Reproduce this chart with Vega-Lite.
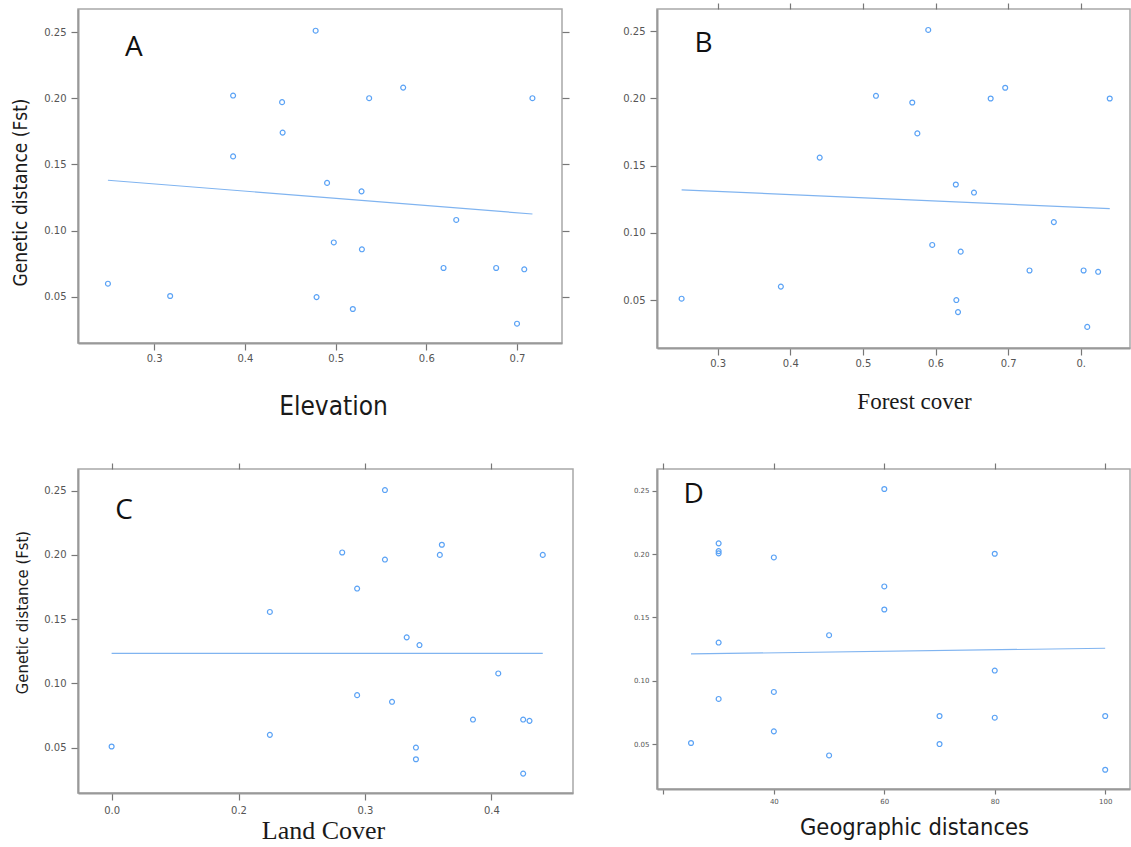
{
  "$schema": "https://vega.github.io/schema/vega-lite/v6.json",
  "background": "white",
  "padding": {"left": 10, "top": 1, "right": 0, "bottom": 0},
  "columns": 2,
  "bounds": "flush",
  "spacing": {"row": 121, "column": 84},
  "datasets": {
    "pts": [
      {"p": "A", "x": 0.478, "y": 0.251}, {"p": "A", "x": 0.387, "y": 0.202}, {"p": "A", "x": 0.441, "y": 0.197},
      {"p": "A", "x": 0.537, "y": 0.2}, {"p": "A", "x": 0.5745, "y": 0.208}, {"p": "A", "x": 0.717, "y": 0.2},
      {"p": "A", "x": 0.4416, "y": 0.174}, {"p": "A", "x": 0.387, "y": 0.156}, {"p": "A", "x": 0.4906, "y": 0.136},
      {"p": "A", "x": 0.5286, "y": 0.1296}, {"p": "A", "x": 0.633, "y": 0.108}, {"p": "A", "x": 0.498, "y": 0.091},
      {"p": "A", "x": 0.529, "y": 0.0858}, {"p": "A", "x": 0.619, "y": 0.0717}, {"p": "A", "x": 0.677, "y": 0.0717},
      {"p": "A", "x": 0.708, "y": 0.0707}, {"p": "A", "x": 0.249, "y": 0.0598}, {"p": "A", "x": 0.3176, "y": 0.0505},
      {"p": "A", "x": 0.479, "y": 0.0497}, {"p": "A", "x": 0.519, "y": 0.0407}, {"p": "A", "x": 0.7, "y": 0.0296},
      {"p": "B", "x": 0.59, "y": 0.251}, {"p": "B", "x": 0.518, "y": 0.202}, {"p": "B", "x": 0.568, "y": 0.197},
      {"p": "B", "x": 0.676, "y": 0.2}, {"p": "B", "x": 0.696, "y": 0.208}, {"p": "B", "x": 0.84, "y": 0.2},
      {"p": "B", "x": 0.575, "y": 0.174}, {"p": "B", "x": 0.4405, "y": 0.156}, {"p": "B", "x": 0.628, "y": 0.136},
      {"p": "B", "x": 0.653, "y": 0.13}, {"p": "B", "x": 0.763, "y": 0.108}, {"p": "B", "x": 0.5955, "y": 0.091},
      {"p": "B", "x": 0.6347, "y": 0.086}, {"p": "B", "x": 0.7295, "y": 0.072}, {"p": "B", "x": 0.804, "y": 0.072},
      {"p": "B", "x": 0.824, "y": 0.071}, {"p": "B", "x": 0.387, "y": 0.06}, {"p": "B", "x": 0.2503, "y": 0.051},
      {"p": "B", "x": 0.6287, "y": 0.05}, {"p": "B", "x": 0.631, "y": 0.041}, {"p": "B", "x": 0.809, "y": 0.03},
      {"p": "C", "x": 0.3158, "y": 0.2505}, {"p": "C", "x": 0.282, "y": 0.2019}, {"p": "C", "x": 0.3158, "y": 0.1964},
      {"p": "C", "x": 0.3608, "y": 0.2079}, {"p": "C", "x": 0.3592, "y": 0.2}, {"p": "C", "x": 0.4406, "y": 0.2},
      {"p": "C", "x": 0.2938, "y": 0.1738}, {"p": "C", "x": 0.2248, "y": 0.1556}, {"p": "C", "x": 0.333, "y": 0.1358},
      {"p": "C", "x": 0.3431, "y": 0.1298}, {"p": "C", "x": 0.4054, "y": 0.1077}, {"p": "C", "x": 0.2938, "y": 0.0908},
      {"p": "C", "x": 0.3214, "y": 0.0856}, {"p": "C", "x": 0.3854, "y": 0.0718}, {"p": "C", "x": 0.4251, "y": 0.0718},
      {"p": "C", "x": 0.4301, "y": 0.0708}, {"p": "C", "x": 0.2248, "y": 0.0599}, {"p": "C", "x": 0.0, "y": 0.0508},
      {"p": "C", "x": 0.3403, "y": 0.05}, {"p": "C", "x": 0.3403, "y": 0.0409}, {"p": "C", "x": 0.4251, "y": 0.0297},
      {"p": "D", "x": 60, "y": 0.2513}, {"p": "D", "x": 30, "y": 0.2084}, {"p": "D", "x": 30, "y": 0.2023},
      {"p": "D", "x": 30, "y": 0.2005}, {"p": "D", "x": 40, "y": 0.1973}, {"p": "D", "x": 80, "y": 0.2002},
      {"p": "D", "x": 60, "y": 0.1744}, {"p": "D", "x": 60, "y": 0.1562}, {"p": "D", "x": 50, "y": 0.1359},
      {"p": "D", "x": 30, "y": 0.1301}, {"p": "D", "x": 80, "y": 0.108}, {"p": "D", "x": 40, "y": 0.0911},
      {"p": "D", "x": 30, "y": 0.0856}, {"p": "D", "x": 70, "y": 0.0721}, {"p": "D", "x": 100, "y": 0.0721},
      {"p": "D", "x": 80, "y": 0.0708}, {"p": "D", "x": 40, "y": 0.06}, {"p": "D", "x": 25, "y": 0.0508},
      {"p": "D", "x": 70, "y": 0.05}, {"p": "D", "x": 50, "y": 0.041}, {"p": "D", "x": 100, "y": 0.0297}
    ],
    "fit": [
      {"p": "A", "x": 0.249, "y": 0.138}, {"p": "A", "x": 0.717, "y": 0.1125},
      {"p": "B", "x": 0.2503, "y": 0.132}, {"p": "B", "x": 0.84, "y": 0.118},
      {"p": "C", "x": 0.0, "y": 0.1233}, {"p": "C", "x": 0.4406, "y": 0.1233},
      {"p": "D", "x": 25, "y": 0.1211}, {"p": "D", "x": 100, "y": 0.1256}
    ]
  },
  "config": {
    "view": {"stroke": "#a8a8a8", "strokeWidth": 1.5},
    "axis": {
      "grid": false,
      "labelFont": "DejaVu Sans",
      "labelFontSize": 10,
      "labelColor": "#555555",
      "labelPadding": 5,
      "tickColor": "#777777",
      "tickSize": 7,
      "tickWidth": 1.2,
      "domainColor": "#999999",
      "domainWidth": 2,
      "titleFontWeight": "normal",
      "titleColor": "#1a1a1a"
    },
    "point": {"shape": "circle", "filled": false, "size": 24, "strokeWidth": 1.2, "color": "#5aa2f5", "opacity": 1},
    "line": {"color": "#80b4f0", "strokeWidth": 1.2},
    "text": {"font": "Open Sans", "fontSize": 28, "color": "#111111", "align": "center", "baseline": "middle"}
  },
  "concat": [
    {
      "width": 484,
      "height": 334,
      "resolve": {"axis": {"y": "independent"}},
      "layer": [
        {
          "data": {"name": "pts"},
          "transform": [{"filter": "datum.p == 'A'"}],
          "mark": {"type": "point"},
          "encoding": {
            "x": {"field": "x", "type": "quantitative", "scale": {"domain": [0.216, 0.7496], "nice": false, "zero": false},
              "axis": {"orient": "bottom", "values": [0.3, 0.4, 0.5, 0.6, 0.7], "format": ".1f", "labelPadding": 3, "title": "Elevation",
                "titleFont": "DejaVu Sans Condensed, DejaVu Sans", "titleFontSize": 26, "titlePadding": 30, "titleX": 255}},
            "y": {"field": "y", "type": "quantitative", "scale": {"domain": [0.015, 0.2674], "nice": false, "zero": false},
              "axis": {"orient": "left", "values": [0.05, 0.1, 0.15, 0.2, 0.25], "format": ".2f", "title": "Genetic distance (Fst)",
                "titleFont": "DejaVu Sans Condensed, DejaVu Sans", "titleFontSize": 19, "titlePadding": 13, "titleY": 183}}
          }
        },
        {
          "data": {"name": "fit"},
          "transform": [{"filter": "datum.p == 'A'"}],
          "mark": {"type": "line"},
          "encoding": {
            "x": {"field": "x", "type": "quantitative"},
            "y": {"field": "y", "type": "quantitative",
              "axis": {"orient": "right", "values": [0.05, 0.1, 0.15, 0.2, 0.25], "labels": false, "domain": false, "title": null}}
          }
        },
        {
          "data": {"values": [{}]},
          "mark": {"type": "text", "text": "A"},
          "encoding": {
            "x": {"datum": 0.2775, "type": "quantitative"},
            "y": {"datum": 0.238, "type": "quantitative", "axis": null}
          }
        }
      ]
    },
    {
      "width": 473,
      "height": 339,
      "resolve": {"axis": {"x": "independent"}},
      "layer": [
        {
          "data": {"name": "pts"},
          "transform": [{"filter": "datum.p == 'B'"}],
          "mark": {"type": "point"},
          "encoding": {
            "x": {"field": "x", "type": "quantitative", "scale": {"domain": [0.2164, 0.8679], "nice": false, "zero": false},
              "axis": {"orient": "bottom", "values": [0.3, 0.4, 0.5, 0.6, 0.7, 0.8], "labelPadding": 3,
                "labelExpr": "datum.value > 0.75 ? '0.' : format(datum.value, '.1f')", "title": "Forest cover",
                "titleFont": "Liberation Serif", "titleFontSize": 23, "titlePadding": 22, "titleX": 257}},
            "y": {"field": "y", "type": "quantitative", "scale": {"domain": [0.0143, 0.2666], "nice": false, "zero": false},
              "axis": {"orient": "left", "values": [0.05, 0.1, 0.15, 0.2, 0.25], "format": ".2f", "title": null}}
          }
        },
        {
          "data": {"name": "fit"},
          "transform": [{"filter": "datum.p == 'B'"}],
          "mark": {"type": "line"},
          "encoding": {
            "x": {"field": "x", "type": "quantitative",
              "axis": {"orient": "top", "values": [0.3, 0.4, 0.5, 0.6, 0.7, 0.8], "labels": false, "domain": false, "title": null, "tickSize": 6}},
            "y": {"field": "y", "type": "quantitative"}
          }
        },
        {
          "data": {"values": [{}]},
          "mark": {"type": "text", "text": "B"},
          "encoding": {
            "x": {"datum": 0.2804, "type": "quantitative", "axis": null},
            "y": {"datum": 0.2409, "type": "quantitative"}
          }
        }
      ]
    },
    {
      "width": 495,
      "height": 324,
      "resolve": {"axis": {"x": "independent"}},
      "layer": [
        {
          "data": {"name": "pts"},
          "transform": [{"filter": "datum.p == 'C'"}],
          "mark": {"type": "point"},
          "encoding": {
            "x": {"field": "x", "type": "quantitative",
              "scale": {"domain": [-0.053, 0.2, 0.4645], "range": [0, 160.5, 495], "nice": false, "zero": false},
              "axis": {"orient": "bottom", "values": [0, 0.2, 0.3, 0.4], "format": ".1f", "title": "Land Cover",
                "titleFont": "Liberation Serif", "titleFontSize": 26, "titlePadding": 2, "titleX": 245}},
            "y": {"field": "y", "type": "quantitative", "scale": {"domain": [0.0146, 0.2669], "nice": false, "zero": false},
              "axis": {"orient": "left", "values": [0.05, 0.1, 0.15, 0.2, 0.25], "format": ".2f", "title": "Genetic distance (Fst)",
                "titleFont": "DejaVu Sans Condensed, DejaVu Sans", "titleFontSize": 16.5, "titlePadding": 13, "titleY": 143}}
          }
        },
        {
          "data": {"name": "fit"},
          "transform": [{"filter": "datum.p == 'C'"}],
          "mark": {"type": "line"},
          "encoding": {
            "x": {"field": "x", "type": "quantitative",
              "axis": {"orient": "top", "values": [0, 0.2, 0.3, 0.4], "labels": false, "domain": false, "title": null, "tickSize": 6}},
            "y": {"field": "y", "type": "quantitative"}
          }
        },
        {
          "data": {"values": [{}]},
          "mark": {"type": "text", "text": "C"},
          "encoding": {
            "x": {"datum": 0.0196, "type": "quantitative", "axis": null},
            "y": {"datum": 0.234, "type": "quantitative"}
          }
        }
      ]
    },
    {
      "width": 473,
      "height": 320,
      "resolve": {"axis": {"x": "independent"}},
      "layer": [
        {
          "data": {"name": "pts"},
          "transform": [{"filter": "datum.p == 'D'"}],
          "mark": {"type": "point"},
          "encoding": {
            "x": {"field": "x", "type": "quantitative", "scale": {"domain": [18.84, 104.49], "nice": false, "zero": false},
              "axis": {"orient": "bottom", "values": [20, 40, 60, 80, 100], "labelExpr": "datum.value == 20 ? '' : datum.label",
                "labelFontSize": 7, "labelPadding": 3, "tickSize": 5, "title": "Geographic distances",
                "titleFont": "DejaVu Sans Condensed, DejaVu Sans", "titleFontSize": 23.5, "titlePadding": 11, "titleX": 257}},
            "y": {"field": "y", "type": "quantitative", "scale": {"domain": [0.0145, 0.2671], "nice": false, "zero": false},
              "axis": {"orient": "left", "values": [0.05, 0.1, 0.15, 0.2, 0.25], "format": ".2f", "labelFontSize": 7,
                "labelPadding": 3, "tickSize": 5, "title": null}}
          }
        },
        {
          "data": {"name": "fit"},
          "transform": [{"filter": "datum.p == 'D'"}],
          "mark": {"type": "line"},
          "encoding": {
            "x": {"field": "x", "type": "quantitative",
              "axis": {"orient": "top", "values": [20, 40, 60, 80, 100], "labels": false, "domain": false, "title": null, "tickSize": 6}},
            "y": {"field": "y", "type": "quantitative"}
          }
        },
        {
          "data": {"values": [{}]},
          "mark": {"type": "text", "text": "D"},
          "encoding": {
            "x": {"datum": 25.5, "type": "quantitative", "axis": null},
            "y": {"datum": 0.2464, "type": "quantitative"}
          }
        }
      ]
    }
  ]
}
